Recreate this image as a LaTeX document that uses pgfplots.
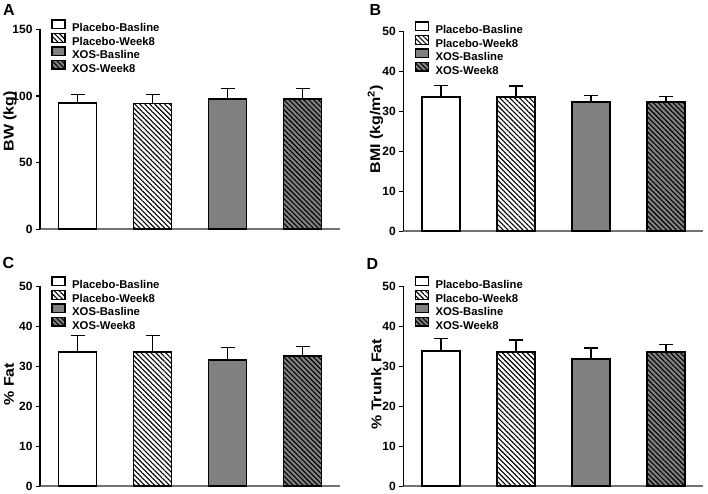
\documentclass[border=0pt]{standalone}
\usepackage{fontspec}
\setmainfont{Liberation Sans}
\usepackage{graphicx}
\usepackage{pgfplots}
\pgfplotsset{compat=1.18}
\usetikzlibrary{patterns.meta}

\pgfplotsset{
  panel/.style={
    scale only axis, width=300pt, height=200pt,
    anchor=south west,
    axis lines=left,
    axis line style={-},
    x axis line style={draw=black!55, line width=1.8pt},
    y axis line style={draw=black, line width=1.3pt},
    xmin=-0.5, xmax=3.5, ymin=0,
    xtick=\empty,
    ytick pos=left, tick align=outside, major tick length=4pt,
    ytick style={black, line width=1.3pt},
    tick label style={font=\bfseries\fontsize{12}{14}\selectfont},
    /pgf/number format/assume math mode=true,
    clip=false,
    legend cell align=left,
    legend style={at={(axis description cs:0.037,1.05)}, anchor=north west,
      draw=none, fill=none, inner sep=0pt,
      nodes={inner sep=0.5pt},
      font=\bfseries\fontsize{11.3}{13}\selectfont,
      row sep=-0.9pt, column sep=6pt},
    legend image code/.code={\draw[#1, line width=1.4pt] (0pt,-0.3pt) rectangle (13pt,8.3pt);},
  },
  ylab/.style n args={3}{
    every axis y label/.style={at={(axis description cs:#1,#2)}, rotate=90, anchor=center,
      font=\bfseries\fontsize{16}{19}\selectfont},
    ylabel={\scalebox{1}[0.88]{#3}},
  },
  barbase/.style={ybar, bar width=38pt, bar shift=0pt, draw=black, line width=1.8pt,
    error bars/y dir=plus, error bars/y explicit,
    error bars/error bar style={black, line width=1.5pt},
    error bars/error mark options={black, line width=1.5pt, mark size=7pt, rotate=90}},
  s1/.style={barbase, fill=white},
  s2/.style={barbase, fill=white,
    postaction={pattern={Lines[angle=-45,distance=3.5pt,line width=1.1pt]}, pattern color=black}},
  s3/.style={barbase, fill=gray},
  s4/.style={barbase, fill=gray,
    postaction={pattern={Lines[angle=-45,distance=3.5pt,line width=1.1pt]}, pattern color=black}},
}

\begin{document}
\begin{tikzpicture}[x=1pt,y=1pt]
\useasboundingbox (0,0) rectangle (708,494);

% Panel A
\begin{axis}[panel, at={(40pt,264.7pt)}, ymax=150, ytick={0,50,100,150},
  ylab={-0.1}{0.54}{BW (kg)}]
\addplot[s1] coordinates {(0,94.7) +- (0,6.3)};
\addplot[s2] coordinates {(1,94.3) +- (0,6.7)};
\addplot[s3] coordinates {(2,97.5) +- (0,8.0)};
\addplot[s4] coordinates {(3,97.5) +- (0,8.25)};
\legend{Placebo-Basline,Placebo-Week8,XOS-Basline,XOS-Week8}
\end{axis}

% Panel B
\begin{axis}[panel, at={(403.3pt,262.7pt)}, ymax=50, ytick={0,10,20,30,40,50},
  ylab={-0.093}{0.51}{BMI (kg/m\textsuperscript{2})}]
\addplot[s1] coordinates {(0,33.65) +- (0,2.85)};
\addplot[s2] coordinates {(1,33.5) +- (0,2.8)};
\addplot[s3] coordinates {(2,32.4) +- (0,1.5)};
\addplot[s4] coordinates {(3,32.4) +- (0,1.35)};
\legend{Placebo-Basline,Placebo-Week8,XOS-Basline,XOS-Week8}
\end{axis}

% Panel C
\begin{axis}[panel, at={(40pt,7.7pt)}, ymax=50, ytick={0,10,20,30,40,50},
  ylab={-0.103}{0.51}{\% Fat}]
\addplot[s1] coordinates {(0,33.5) +- (0,4.15)};
\addplot[s2] coordinates {(1,33.5) +- (0,4.2)};
\addplot[s3] coordinates {(2,31.6) +- (0,3.15)};
\addplot[s4] coordinates {(3,32.5) +- (0,2.4)};
\legend{Placebo-Basline,Placebo-Week8,XOS-Basline,XOS-Week8}
\end{axis}

% Panel D
\begin{axis}[panel, at={(403.3pt,7.7pt)}, ymax=50, ytick={0,10,20,30,40,50},
  ylab={-0.09}{0.51}{\% Trunk Fat}]
\addplot[s1] coordinates {(0,33.75) +- (0,3.15)};
\addplot[s2] coordinates {(1,33.5) +- (0,3.1)};
\addplot[s3] coordinates {(2,31.9) +- (0,2.7)};
\addplot[s4] coordinates {(3,33.5) +- (0,2.0)};
\legend{Placebo-Basline,Placebo-Week8,XOS-Basline,XOS-Week8}
\end{axis}

\node[font=\bfseries\fontsize{16}{19}\selectfont] at (9,484) {A};
\node[font=\bfseries\fontsize{16}{19}\selectfont] at (375.5,483.5) {B};
\node[font=\bfseries\fontsize{16}{19}\selectfont] at (8.5,231) {C};
\node[font=\bfseries\fontsize{16}{19}\selectfont] at (372.5,230) {D};
\end{tikzpicture}
\end{document}
